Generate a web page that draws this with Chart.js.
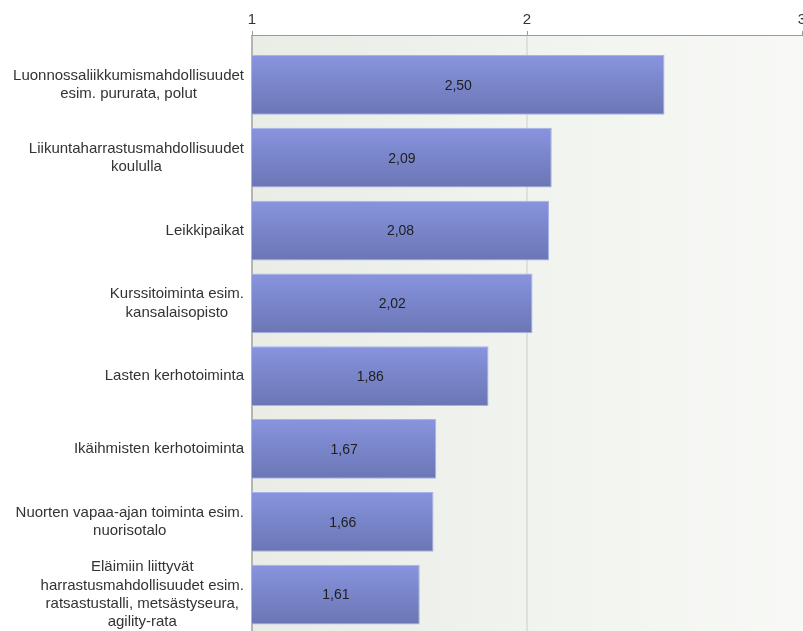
<!DOCTYPE html>
<html>
<head>
<meta charset="utf-8">
<script src="https://cdn.jsdelivr.net/npm/chart.js@4"></script>
<style>
  html, body { margin: 0; padding: 0; background: #fff; }
  #wrap { width: 803px; height: 631px; }
</style>
</head>
<body>
<div id="wrap"><canvas id="avgChart" width="803" height="631"></canvas></div>
<script>
// data
const categories = [
    ['Luonnossaliikkumismahdollisuudet', 'esim. pururata, polut'],
    ['Liikuntaharrastusmahdollisuudet', 'koululla'],
    ['Leikkipaikat'],
    ['Kurssitoiminta esim.', 'kansalaisopisto'],
    ['Lasten kerhotoiminta'],
    ['Ikäihmisten kerhotoiminta'],
    ['Nuorten vapaa-ajan toiminta esim.', 'nuorisotalo'],
    ['Eläimiin liittyvät', 'harrastusmahdollisuudet esim.', 'ratsastustalli, metsästyseura,', 'agility-rata']
];
const averages = [2.50, 2.09, 2.08, 2.02, 1.86, 1.67, 1.66, 1.61];
const xTicks = [1, 2, 3];

const FONT = '"Liberation Sans", Arial, sans-serif';
const AXIS_Y = 35; // top axis line sits a bit above the first band

// background, grid and top axis (drawn by hand so the axis can float above the bands)
const frame = {
    id: 'frame',
    beforeDatasetsDraw(chart) {
        const { ctx, chartArea: a, scales: { x } } = chart;
        ctx.save();
        const g = ctx.createLinearGradient(a.left, 0, chart.width, 0);
        g.addColorStop(0, '#e9ede6');
        g.addColorStop(1, '#f8f9f6');
        ctx.fillStyle = g;
        ctx.fillRect(a.left, AXIS_Y, chart.width - a.left, chart.height - AXIS_Y);

        // inner grid line (the one at 3 falls on the edge)
        ctx.lineWidth = 2;
        ctx.strokeStyle = '#dfe2dc';
        xTicks.slice(1, -1).forEach(v => {
            const px = Math.round(x.getPixelForValue(v));
            ctx.beginPath();
            ctx.moveTo(px, AXIS_Y);
            ctx.lineTo(px, chart.height);
            ctx.stroke();
        });

        // left axis
        ctx.strokeStyle = '#b4b6b2';
        ctx.beginPath();
        ctx.moveTo(a.left, AXIS_Y);
        ctx.lineTo(a.left, chart.height);
        ctx.stroke();

        // top axis + tick marks
        ctx.lineWidth = 1;
        ctx.strokeStyle = '#9a9a9a';
        ctx.beginPath();
        ctx.moveTo(a.left, AXIS_Y + 0.5);
        ctx.lineTo(chart.width, AXIS_Y + 0.5);
        xTicks.forEach(v => {
            const px = Math.round(x.getPixelForValue(v)) + 0.5;
            ctx.moveTo(px, AXIS_Y - 4);
            ctx.lineTo(px, AXIS_Y);
        });
        ctx.stroke();

        ctx.fillStyle = '#333';
        ctx.font = '15px ' + FONT;
        ctx.textAlign = 'center';
        ctx.textBaseline = 'middle';
        xTicks.forEach(v => ctx.fillText(String(v), x.getPixelForValue(v), 20));
        ctx.restore();
    },
    afterDraw(chart) {
        const { ctx, scales: { x, y } } = chart;
        ctx.save();
        ctx.textBaseline = 'middle';

        // category labels: block right aligned, lines centred inside it
        ctx.font = '15px ' + FONT;
        ctx.fillStyle = '#333';
        ctx.textAlign = 'center';
        const lineH = 18.3;
        categories.forEach((lines, i) => {
            const w = Math.max(...lines.map(t => ctx.measureText(t).width));
            const cx = 244 - w / 2;
            const cy = y.getPixelForTick(i);
            lines.forEach((t, k) => {
                ctx.fillText(t, cx, cy + (k - (lines.length - 1) / 2) * lineH);
            });
        });

        // values inside bars
        ctx.font = '14px ' + FONT;
        ctx.fillStyle = '#1e1e1e';
        averages.forEach((v, i) => {
            const mid = (x.getPixelForValue(1) + x.getPixelForValue(v)) / 2;
            ctx.fillText(v.toFixed(2).replace('.', ','), mid, y.getPixelForTick(i) + 1);
        });
        ctx.restore();
    }
};

function barFill(c) {
    const chart = c.chart;
    const y = chart.scales && chart.scales.y;
    if (!y || !chart.chartArea) return '#7886cb';
    const mid = y.getPixelForValue(c.dataIndex);
    const g = chart.ctx.createLinearGradient(0, mid - 30, 0, mid + 30);
    g.addColorStop(0, '#8894de');
    g.addColorStop(1, '#6a76b4');
    return g;
}

new Chart(document.getElementById('avgChart'), {
    type: 'bar',
    data: {
        labels: categories,
        datasets: [{
            data: averages,
            base: 1,
            backgroundColor: barFill,
            borderColor: '#a7b1ea',
            borderWidth: 1,
            borderSkipped: 'start',
            barPercentage: 0.82,
            categoryPercentage: 1
        }]
    },
    options: {
        indexAxis: 'y',
        responsive: false,
        animation: false,
        layout: { padding: { left: 252, right: 1, top: 48.5, bottom: 0 } },
        scales: {
            x: { min: 1, max: 3, display: false },
            y: { display: false }
        },
        plugins: {
            legend: { display: false },
            tooltip: { enabled: false }
        }
    },
    plugins: [frame]
});
</script>
</body>
</html>
